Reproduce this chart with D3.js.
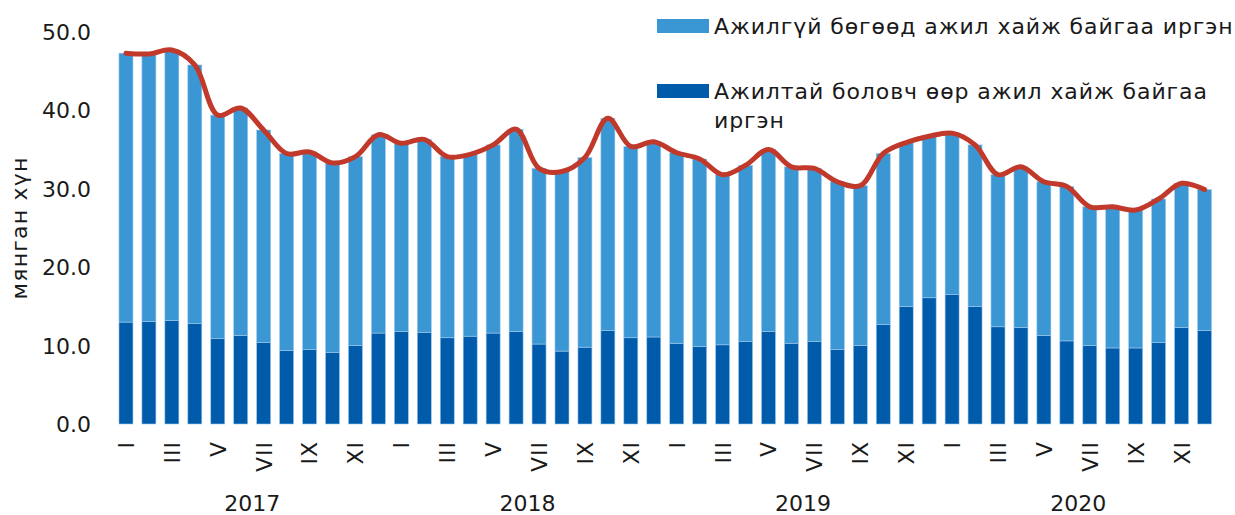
<!DOCTYPE html>
<html>
<head>
<meta charset="utf-8">
<script src="https://cdn.jsdelivr.net/npm/d3@7"></script>
<style>
  body { margin: 0; background: #fff; }
  text { font-family: "DejaVu Sans", sans-serif; fill: #1a1a1a; }
</style>
</head>
<body>
<div id="chart"></div>
<script>
const width = 1235;
const height = 515;

// months, Jan 2017 - Dec 2020
const years = ["2017", "2018", "2019", "2020"];
const monthLabels = ["I", "", "III", "", "V", "", "VII", "", "IX", "", "XI", ""];

// Ажилтай боловч өөр ажил хайж байгаа иргэн (мянган хүн)
const employedSeeking = [
  13.0, 13.1, 13.2, 12.8, 10.9, 11.3, 10.4, 9.4, 9.5, 9.1, 10.0, 11.6,
  11.8, 11.7, 11.0, 11.2, 11.6, 11.8, 10.2, 9.3, 9.8, 11.9, 11.0, 11.1,
  10.3, 9.9, 10.1, 10.5, 11.8, 10.3, 10.5, 9.5, 10.0, 12.7, 15.0, 16.1,
  16.5, 15.0, 12.4, 12.3, 11.3, 10.6, 10.0, 9.7, 9.7, 10.4, 12.3, 11.9
];
// Ажилгүй бөгөөд ажил хайж байгаа иргэн (мянган хүн)
const unemployedSeeking = [
  34.3, 34.1, 34.5, 33.0, 28.5, 29.0, 27.1, 25.1, 25.2, 24.2, 24.1, 25.3,
  24.0, 24.6, 23.1, 23.2, 24.0, 25.8, 22.4, 22.9, 24.2, 27.1, 24.4, 24.9,
  24.3, 23.9, 21.7, 22.5, 23.2, 22.5, 22.1, 21.4, 20.4, 21.8, 20.9, 20.6,
  20.6, 20.6, 19.4, 20.5, 19.6, 19.7, 17.7, 18.0, 17.6, 18.3, 18.4, 18.0
];
const yTicks = [0, 10, 20, 30, 40, 50];

const colLight = "#3b97d3";
const colDark = "#005baa";
const colLine = "#c0392b";

const months = [];
years.forEach(function(y) {
  monthLabels.forEach(function(m, i) { months.push({year: y, label: m, key: y + "-" + (i + 1)}); });
});
const data = months.map(function(m, i) {
  return {key: m.key, label: m.label, year: m.year, dark: employedSeeking[i], light: unemployedSeeking[i]};
});

const svg = d3.select("#chart").append("svg")
  .attr("width", width)
  .attr("height", height);

const x = d3.scaleBand()
  .domain(data.map(d => d.key))
  .range([114.5, 1216])
  .paddingInner(0.39)
  .paddingOuter(0.195);

const y = d3.scaleLinear().domain([0, 50]).range([424, 32]);

// y axis labels
svg.append("g")
  .selectAll("text")
  .data(yTicks)
  .enter().append("text")
  .attr("x", 91)
  .attr("y", d => y(d))
  .attr("dy", "0.36em")
  .attr("text-anchor", "end")
  .style("font-size", "22px")
  .text(d => d3.format(".1f")(d));

svg.append("text")
  .attr("transform", "translate(27,228) rotate(-90)")
  .attr("text-anchor", "middle")
  .style("font-size", "22px")
  .style("letter-spacing", "1.2px")
  .text("мянган хүн");

// stacked bars
const stack = d3.stack().keys(["dark", "light"]);
const series = stack(data);
const colors = {dark: colDark, light: colLight};

svg.append("g")
  .selectAll("g")
  .data(series)
  .enter().append("g")
  .attr("fill", d => colors[d.key])
  .selectAll("rect")
  .data(d => d)
  .enter().append("rect")
  .attr("x", d => x(d.data.key))
  .attr("width", x.bandwidth())
  .attr("y", d => y(d[1]))
  .attr("height", d => y(d[0]) - y(d[1]))
  .attr("stroke", "#9cc8ec")
  .attr("stroke-width", 0.6);

// total line
const line = d3.line()
  .x(d => x(d.key) + x.bandwidth() / 2)
  .y(d => y(d.dark + d.light))
  .curve(d3.curveCatmullRom);

svg.append("path")
  .datum(data)
  .attr("fill", "none")
  .attr("stroke", colLine)
  .attr("stroke-width", 5)
  .attr("stroke-linecap", "round")
  .attr("d", line);

// month labels
svg.append("g")
  .selectAll("text")
  .data(data.filter(d => d.label !== ""))
  .enter().append("text")
  .attr("transform", d => "translate(" + (x(d.key) + x.bandwidth() / 2) + ",441) rotate(-90)")
  .attr("text-anchor", "end")
  .attr("dy", "0.36em")
  .style("font-size", "22px")
  .style("letter-spacing", "1px")
  .text(d => d.label);

// year labels
svg.append("g")
  .selectAll("text")
  .data(years)
  .enter().append("text")
  .attr("x", function(yr) {
    const first = x(yr + "-1"), last = x(yr + "-12");
    return (first + last) / 2 + x.bandwidth() / 2;
  })
  .attr("y", 511)
  .attr("text-anchor", "middle")
  .style("font-size", "22px")
  .text(d => d);

// legend
const legend = svg.append("g").style("font-size", "22px").style("letter-spacing", "0.9px");
legend.append("rect").attr("x", 657).attr("y", 19).attr("width", 52).attr("height", 14).attr("fill", colLight);
legend.append("text").attr("x", 714).attr("y", 34)
  .text("Ажилгүй бөгөөд ажил хайж байгаа иргэн");
legend.append("rect").attr("x", 657).attr("y", 84).attr("width", 52).attr("height", 14).attr("fill", colDark);
legend.append("text").attr("x", 714).attr("y", 99)
  .text("Ажилтай боловч өөр ажил хайж байгаа");
legend.append("text").attr("x", 714).attr("y", 128)
  .text("иргэн");
</script>
</body>
</html>
